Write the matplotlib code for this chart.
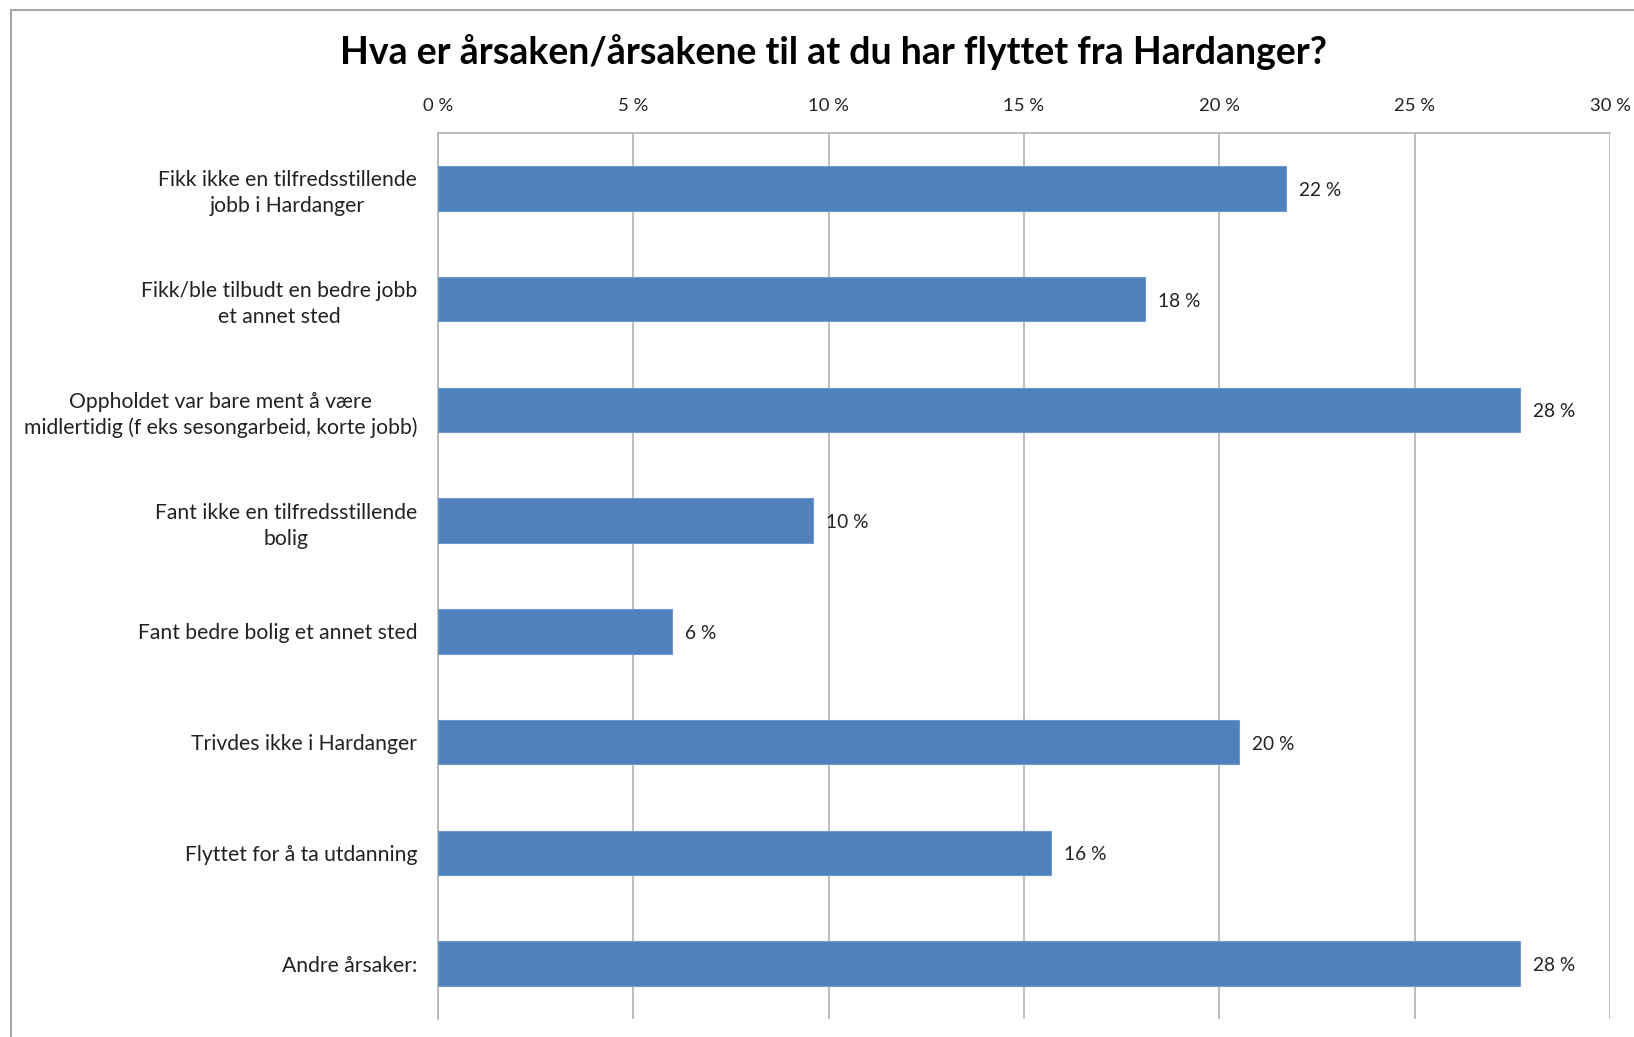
import matplotlib.pyplot as plt
from matplotlib.patches import Rectangle

categories = [
    "Fikk ikke en tilfredsstillende\njobb i Hardanger",
    "Fikk/ble tilbudt en bedre jobb\net annet sted",
    "Oppholdet var bare ment å være\nmidlertidig (f eks sesongarbeid, korte jobb)",
    "Fant ikke en tilfredsstillende\nbolig",
    "Fant bedre bolig et annet sted",
    "Trivdes ikke i Hardanger",
    "Flyttet for å ta utdanning",
    "Andre årsaker:",
]
values = [21.7, 18.1, 27.7, 9.6, 6.0, 20.5, 15.7, 27.7]
xticks = [0, 5, 10, 15, 20, 25, 30]

plt.rcParams['font.family'] = ['Lato', 'DejaVu Sans']
text_color = '#222222'
grid_color = '#b3b3b3'

fig = plt.figure(figsize=(16.34, 10.37), dpi=100)
ax = fig.add_axes([438 / 1634, 1 - 1019 / 1037, (1610 - 438) / 1634, (1019 - 133) / 1037])

ypos = list(range(len(categories)))
ax.barh(ypos, values, height=0.4, color='#4F81BD', edgecolor='#6f98cc', linewidth=0.8, zorder=3)

for y, v in zip(ypos, values):
    ax.annotate(f"{round(v)} %", xy=(v, y), xytext=(13, -2), textcoords='offset pixels',
                ha='left', va='center', fontsize=13.8, color=text_color)

ax.set_xlim(0, 30)
ax.set_ylim(len(categories) - 0.5, -0.5)
ax.set_xticks(xticks)
ax.set_xticklabels([f"{t} %" for t in xticks])
ax.set_yticks(ypos)
ax.set_yticklabels(categories)
for lab in ax.get_yticklabels():
    lab.set_multialignment('center')
    lab.set_linespacing(1.38)

ax.xaxis.tick_top()
ax.tick_params(axis='x', length=0, pad=14, labelsize=13.3, labelcolor=text_color)
ax.tick_params(axis='y', length=0, pad=15, labelsize=15.2, labelcolor=text_color)
ax.grid(axis='x', color=grid_color, linewidth=1.2, zorder=0)

for side in ['bottom', 'right']:
    ax.spines[side].set_visible(False)
for side in ['top', 'left']:
    ax.spines[side].set_color(grid_color)
    ax.spines[side].set_linewidth(1.2)

fig.text(834 / 1634, 1 - 52 / 1037, "Hva er årsaken/årsakene til at du har flyttet fra Hardanger?",
         ha='center', va='center', fontsize=27, fontweight='bold', color='black')

# chart frame, cut off on the right and bottom like in the original
fig.patches.append(Rectangle((10.5 / 1634, -0.05), 1.1, 1 - 10.5 / 1037 + 0.05,
                             transform=fig.transFigure, fill=False,
                             edgecolor='#a6a6a6', linewidth=1.5))

fig.savefig('out.png', dpi=100)
